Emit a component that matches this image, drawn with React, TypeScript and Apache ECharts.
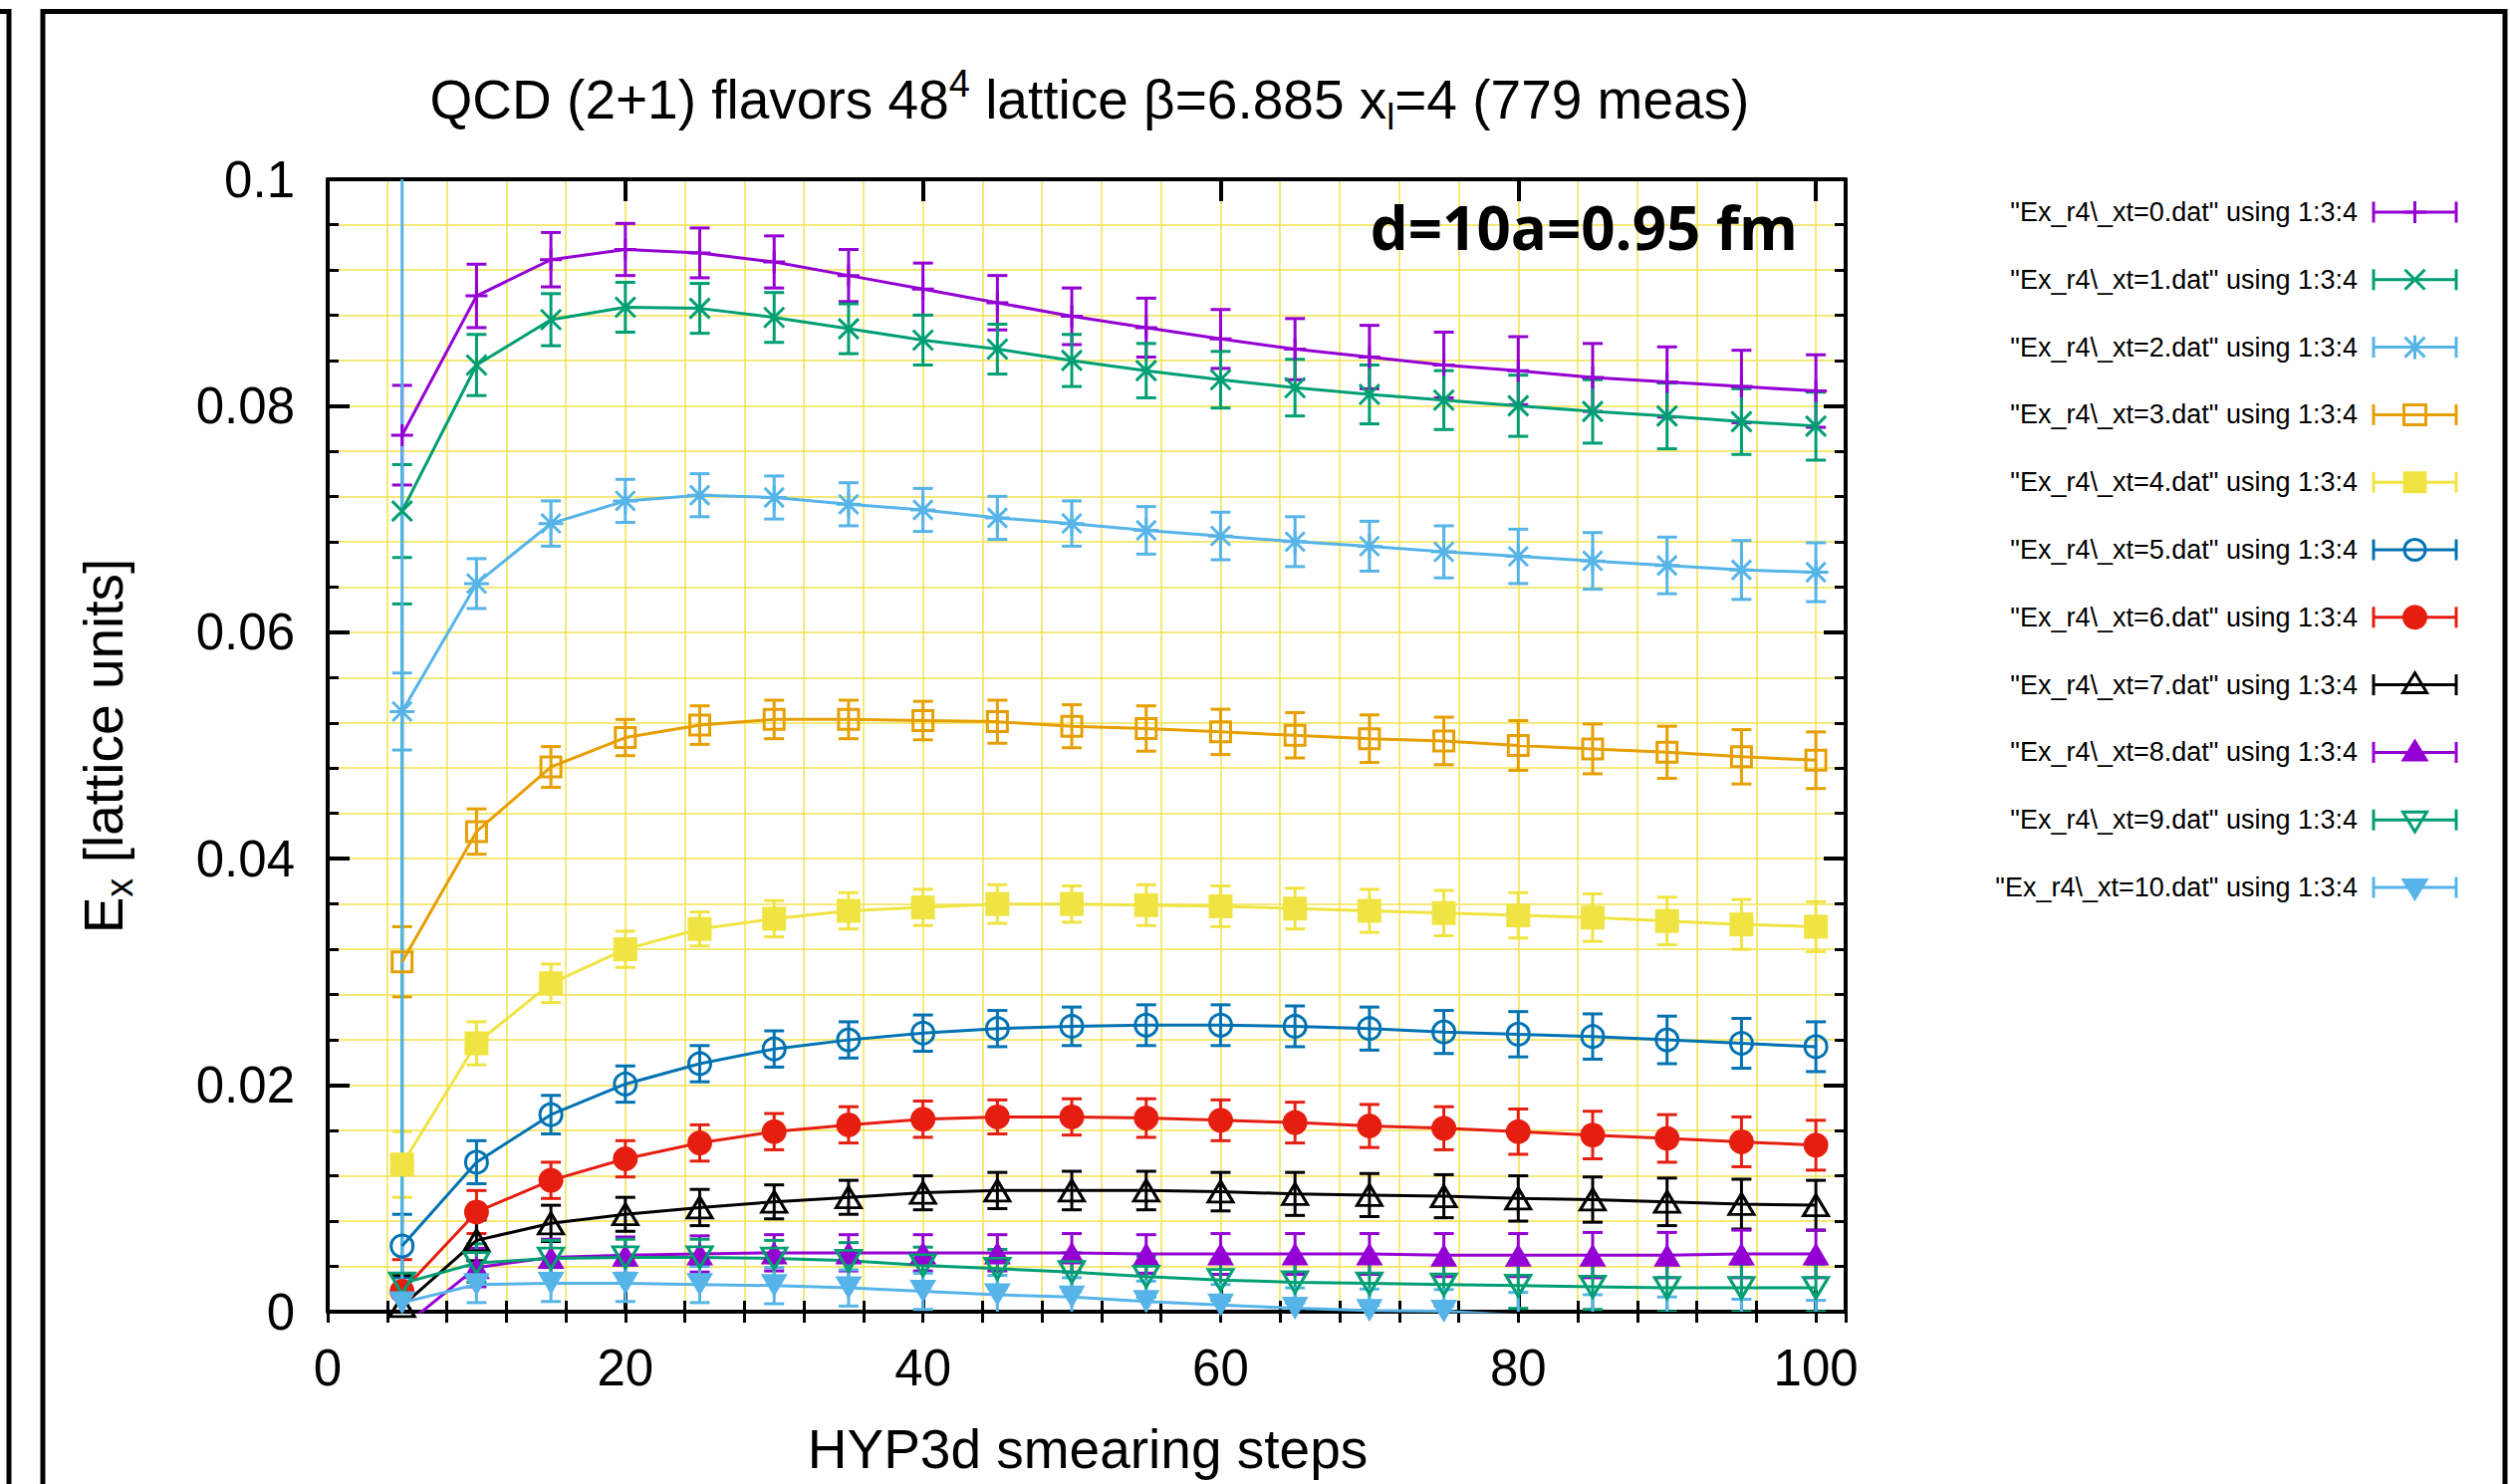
import React, { useEffect, useRef } from "react";
import * as echarts from "echarts";

// smearing steps (x values shared by every data file)
const steps = [5, 10, 15, 20, 25, 30, 35, 40, 45, 50, 55, 60, 65, 70, 75, 80, 85, 90, 95, 100];

// E_x values and their errors, one pair of arrays per xt file
const xt0 = [0.0774, 0.0897, 0.0929, 0.0938, 0.0935, 0.0927, 0.0915, 0.0903, 0.0891, 0.0879, 0.0869, 0.0859, 0.0850, 0.0843, 0.0836, 0.0831, 0.0825, 0.0821, 0.0817, 0.0813];
const xt0Err = [0.0044, 0.0028, 0.0024, 0.0023, 0.0022, 0.0023, 0.0023, 0.0023, 0.0024, 0.0025, 0.0026, 0.0026, 0.0027, 0.0028, 0.0029, 0.0030, 0.0030, 0.0031, 0.0032, 0.0032];

const xt1 = [0.0707, 0.0836, 0.0876, 0.0887, 0.0886, 0.0878, 0.0868, 0.0858, 0.0850, 0.0840, 0.0831, 0.0823, 0.0816, 0.0810, 0.0805, 0.0800, 0.0795, 0.0791, 0.0786, 0.0782];
const xt1Err = [0.0041, 0.0027, 0.0023, 0.0022, 0.0022, 0.0022, 0.0022, 0.0022, 0.0022, 0.0023, 0.0024, 0.0025, 0.0025, 0.0026, 0.0026, 0.0027, 0.0028, 0.0029, 0.0029, 0.0030];

const xt2 = [0.0530, 0.0643, 0.0696, 0.0716, 0.0721, 0.0719, 0.0713, 0.0708, 0.0701, 0.0696, 0.0690, 0.0685, 0.0680, 0.0676, 0.0671, 0.0667, 0.0663, 0.0659, 0.0655, 0.0653];
const xt2Err = [0.0034, 0.0022, 0.0020, 0.0019, 0.0019, 0.0019, 0.0019, 0.0019, 0.0019, 0.0020, 0.0021, 0.0021, 0.0022, 0.0022, 0.0023, 0.0024, 0.0025, 0.0025, 0.0026, 0.0026];

const xt3 = [0.0309, 0.0424, 0.0481, 0.0507, 0.0518, 0.0523, 0.0523, 0.0522, 0.0521, 0.0517, 0.0515, 0.0512, 0.0509, 0.0506, 0.0504, 0.0500, 0.0497, 0.0494, 0.0490, 0.0487];
const xt3Err = [0.0031, 0.0020, 0.0018, 0.0016, 0.0017, 0.0017, 0.0017, 0.0017, 0.0019, 0.0019, 0.0020, 0.0020, 0.0020, 0.0021, 0.0021, 0.0022, 0.0022, 0.0023, 0.0024, 0.0025];

const xt4 = [0.0130, 0.0237, 0.0290, 0.0320, 0.0338, 0.0347, 0.0354, 0.0357, 0.0360, 0.0360, 0.0359, 0.0358, 0.0356, 0.0354, 0.0352, 0.0350, 0.0348, 0.0345, 0.0342, 0.0340];
const xt4Err = [0.0029, 0.0019, 0.0017, 0.0016, 0.0015, 0.0016, 0.0016, 0.0016, 0.0017, 0.0016, 0.0018, 0.0018, 0.0018, 0.0019, 0.0020, 0.0020, 0.0021, 0.0021, 0.0022, 0.0022];

const xt5 = [0.0058, 0.0132, 0.0174, 0.0201, 0.0219, 0.0232, 0.0240, 0.0246, 0.0250, 0.0252, 0.0253, 0.0253, 0.0252, 0.0250, 0.0247, 0.0245, 0.0243, 0.0240, 0.0237, 0.0234];
const xt5Err = [0.0028, 0.0019, 0.0017, 0.0016, 0.0016, 0.0016, 0.0016, 0.0016, 0.0016, 0.0017, 0.0018, 0.0018, 0.0018, 0.0019, 0.0019, 0.0020, 0.0020, 0.0021, 0.0022, 0.0022];

const xt6 = [0.0018, 0.0088, 0.0116, 0.0135, 0.0149, 0.0159, 0.0165, 0.0170, 0.0172, 0.0172, 0.0171, 0.0169, 0.0167, 0.0164, 0.0162, 0.0159, 0.0156, 0.0153, 0.0150, 0.0147];
const xt6Err = [0.0028, 0.0019, 0.0016, 0.0016, 0.0016, 0.0016, 0.0016, 0.0016, 0.0015, 0.0016, 0.0017, 0.0018, 0.0018, 0.0019, 0.0019, 0.0020, 0.0021, 0.0021, 0.0022, 0.0022];

const xt7 = [0.0005, 0.0063, 0.0078, 0.0086, 0.0092, 0.0097, 0.0101, 0.0105, 0.0107, 0.0107, 0.0107, 0.0106, 0.0104, 0.0103, 0.0102, 0.0100, 0.0099, 0.0097, 0.0095, 0.0094];
const xt7Err = [0.0027, 0.0018, 0.0016, 0.0015, 0.0016, 0.0015, 0.0015, 0.0015, 0.0016, 0.0017, 0.0017, 0.0017, 0.0019, 0.0019, 0.0019, 0.0020, 0.0020, 0.0021, 0.0022, 0.0022];

const xt8 = [-0.0014, 0.0039, 0.0048, 0.0050, 0.0051, 0.0052, 0.0052, 0.0052, 0.0052, 0.0052, 0.0051, 0.0051, 0.0051, 0.0051, 0.0050, 0.0050, 0.0050, 0.0050, 0.0051, 0.0051];
const xt8Err = [0.0027, 0.0017, 0.0016, 0.0016, 0.0016, 0.0016, 0.0016, 0.0016, 0.0016, 0.0017, 0.0017, 0.0018, 0.0018, 0.0018, 0.0019, 0.0019, 0.0020, 0.0020, 0.0021, 0.0021];

const xt9 = [0.0025, 0.0043, 0.0047, 0.0048, 0.0048, 0.0047, 0.0045, 0.0041, 0.0038, 0.0035, 0.0031, 0.0028, 0.0026, 0.0025, 0.0024, 0.0023, 0.0022, 0.0021, 0.0021, 0.0021];
const xt9Err = [0.0600, 0.0017, 0.0016, 0.0016, 0.0016, 0.0016, 0.0016, 0.0016, 0.0017, 0.0017, 0.0018, 0.0018, 0.0018, 0.0019, 0.0019, 0.0020, 0.0020, 0.0021, 0.0021, 0.0021];

const xt10 = [0.0008, 0.0024, 0.0025, 0.0025, 0.0024, 0.0023, 0.0021, 0.0018, 0.0015, 0.0013, 0.0009, 0.0006, 0.0003, 0.0001, 0.00005, -0.0003, -0.0005, -0.0008, -0.0010, -0.0012];
const xt10Err = [0.1500, 0.0016, 0.0016, 0.0016, 0.0016, 0.0016, 0.0016, 0.0016, 0.0017, 0.0017, 0.0018, 0.0018, 0.0018, 0.0019, 0.0019, 0.0020, 0.0020, 0.0021, 0.0021, 0.0022];

const values = [xt0, xt1, xt2, xt3, xt4, xt5, xt6, xt7, xt8, xt9, xt10];
const errors = [xt0Err, xt1Err, xt2Err, xt3Err, xt4Err, xt5Err, xt6Err, xt7Err, xt8Err, xt9Err, xt10Err];

// legend entries
const fileLabels = [0, 1, 2, 3, 4, 5, 6, 7, 8, 9, 10].map(
  (i) => `"Ex_r4\\_xt=${i}.dat" using 1:3:4`
);

// axis ticks
const xTickLabels = [0, 20, 40, 60, 80, 100];
const yTickLabels = [0, 0.02, 0.04, 0.06, 0.08, 0.1];

// gnuplot-like line colours and point types
const COLORS = ["#9400d3", "#009e73", "#56b4e9", "#e69f00", "#f0e442", "#0072b2", "#e51e10", "#000000", "#9400d3", "#009e73", "#56b4e9"];
const MARKS = ["plus", "cross", "star", "sqOpen", "sqFill", "circOpen", "circFill", "triOpen", "triFill", "dtriOpen", "dtriFill"];

const FONT = '"Liberation Sans", Arial, Helvetica, sans-serif';
const GRID_COLOR = "#f0e24e";
const LW = 3;

// plot area in pixels
const PLOT = { left: 329, top: 180, width: 1524, height: 1137 };

function symbolFor(kind: string, color: string) {
  const open = { color: "rgba(0,0,0,0)", borderColor: color, borderWidth: LW };
  const filled = { color, borderWidth: 0 };
  switch (kind) {
    case "plus":
      return { symbol: "path://M0,-1L0,1M-1,0L1,0", symbolSize: 22, itemStyle: open, symbolRotate: 0 };
    case "cross":
      return { symbol: "path://M-1,-1L1,1M-1,1L1,-1", symbolSize: 20, itemStyle: open, symbolRotate: 0 };
    case "star":
      return { symbol: "path://M-1,-1L1,1M-1,1L1,-1M0,-1.3L0,1.3M-1.3,0L1.3,0", symbolSize: 25, itemStyle: open, symbolRotate: 0 };
    case "sqOpen":
      return { symbol: "rect", symbolSize: 20, itemStyle: open, symbolRotate: 0 };
    case "sqFill":
      return { symbol: "rect", symbolSize: 24, itemStyle: filled, symbolRotate: 0 };
    case "circOpen":
      return { symbol: "circle", symbolSize: 22, itemStyle: open, symbolRotate: 0 };
    case "circFill":
      return { symbol: "circle", symbolSize: 25, itemStyle: filled, symbolRotate: 0 };
    case "triOpen":
      return { symbol: "triangle", symbolSize: [25, 21], itemStyle: open, symbolRotate: 0 };
    case "triFill":
      return { symbol: "triangle", symbolSize: [27, 23], itemStyle: filled, symbolRotate: 0 };
    case "dtriOpen":
      return { symbol: "triangle", symbolSize: [25, 21], itemStyle: open, symbolRotate: 180 };
    default:
      return { symbol: "triangle", symbolSize: [27, 23], itemStyle: filled, symbolRotate: 180 };
  }
}

// marker shapes for the hand-drawn key
function keyMarker(kind: string, color: string, cx: number, cy: number): any[] {
  const st = { stroke: color, lineWidth: LW, fill: "none" };
  const fl = { fill: color };
  const ln = (x1: number, y1: number, x2: number, y2: number) => ({
    type: "line",
    shape: { x1, y1, x2, y2 },
    style: st,
  });
  switch (kind) {
    case "plus":
      return [ln(cx, cy - 11, cx, cy + 11), ln(cx - 11, cy, cx + 11, cy)];
    case "cross":
      return [ln(cx - 10, cy - 10, cx + 10, cy + 10), ln(cx - 10, cy + 10, cx + 10, cy - 10)];
    case "star":
      return [
        ln(cx - 10, cy - 10, cx + 10, cy + 10),
        ln(cx - 10, cy + 10, cx + 10, cy - 10),
        ln(cx, cy - 12, cx, cy + 12),
      ];
    case "sqOpen":
      return [{ type: "rect", shape: { x: cx - 11, y: cy - 10, width: 22, height: 20 }, style: st }];
    case "sqFill":
      return [{ type: "rect", shape: { x: cx - 12, y: cy - 11, width: 24, height: 22 }, style: fl }];
    case "circOpen":
      return [{ type: "circle", shape: { cx, cy, r: 10.5 }, style: st }];
    case "circFill":
      return [{ type: "circle", shape: { cx, cy, r: 12.5 }, style: fl }];
    case "triOpen":
      return [{ type: "polygon", shape: { points: [[cx, cy - 12], [cx + 12, cy + 8], [cx - 12, cy + 8]] }, style: st }];
    case "triFill":
      return [{ type: "polygon", shape: { points: [[cx, cy - 14], [cx + 14, cy + 9], [cx - 14, cy + 9]] }, style: fl }];
    case "dtriOpen":
      return [{ type: "polygon", shape: { points: [[cx, cy + 12], [cx + 12, cy - 8], [cx - 12, cy - 8]] }, style: st }];
    default:
      return [{ type: "polygon", shape: { points: [[cx, cy + 14], [cx + 14, cy - 9], [cx - 14, cy - 9]] }, style: fl }];
  }
}

function buildOption() {
  const series: any[] = [];
  values.forEach((vals, k) => {
    const color = COLORS[k];
    const errs = errors[k];
    series.push({
      type: "custom",
      name: fileLabels[k] + " errors",
      xAxisIndex: 0,
      yAxisIndex: 0,
      clip: true,
      silent: true,
      data: steps.map((s, i) => [s, vals[i] - errs[i], vals[i] + errs[i]]),
      encode: { x: 0, y: [1, 2] },
      renderItem: (_params: any, api: any) => {
        const x = api.value(0);
        const lo = api.coord([x, api.value(1)]);
        const hi = api.coord([x, api.value(2)]);
        const hw = 10;
        const style = { stroke: color, lineWidth: LW };
        return {
          type: "group",
          children: [
            { type: "line", shape: { x1: lo[0], y1: lo[1], x2: hi[0], y2: hi[1] }, style },
            { type: "line", shape: { x1: lo[0] - hw, y1: lo[1], x2: lo[0] + hw, y2: lo[1] }, style },
            { type: "line", shape: { x1: hi[0] - hw, y1: hi[1], x2: hi[0] + hw, y2: hi[1] }, style },
          ],
        };
      },
    });
    const sym = symbolFor(MARKS[k], color);
    series.push({
      type: "line",
      name: fileLabels[k],
      xAxisIndex: 0,
      yAxisIndex: 0,
      clip: true,
      silent: true,
      data: steps.map((s, i) => [s, vals[i]]),
      symbol: sym.symbol,
      symbolSize: sym.symbolSize,
      symbolRotate: sym.symbolRotate,
      showSymbol: true,
      showAllSymbol: true,
      itemStyle: sym.itemStyle,
      lineStyle: { color, width: LW },
      emphasis: { disabled: true },
    });
  });

  const majorTick = { show: true, inside: true, length: 22, lineStyle: { color: "#000", width: 4 } };
  const minorTickX = { show: true, inside: true, length: 11, lineStyle: { color: "#000", width: 3 } };
  const axisLine = { show: true, onZero: false, lineStyle: { color: "#000", width: 4 } };
  const gridLine = { show: true, lineStyle: { color: GRID_COLOR, width: 1.5 } };
  const labelStyle = { color: "#000", fontSize: 51, fontFamily: FONT };

  const xBase = { type: "value", min: 0, max: 102 };
  const xAxis = [
    {
      ...xBase,
      position: "bottom",
      interval: 20,
      axisLine,
      axisTick: majorTick,
      splitLine: { show: false },
      axisLabel: {
        ...labelStyle,
        margin: 31,
        formatter: (v: number) => (xTickLabels.indexOf(v) >= 0 ? String(v) : ""),
      },
    },
    {
      ...xBase,
      position: "bottom",
      interval: 4,
      axisLine: { show: false },
      axisTick: minorTickX,
      splitLine: gridLine,
      axisLabel: { show: false },
    },
    {
      ...xBase,
      position: "top",
      interval: 20,
      axisLine,
      axisTick: majorTick,
      splitLine: { show: false },
      axisLabel: { show: false },
    },
    {
      ...xBase,
      position: "top",
      interval: 4,
      axisLine: { show: false },
      axisTick: minorTickX,
      splitLine: { show: false },
      axisLabel: { show: false },
    },
  ];

  const yBase = {
    type: "value",
    min: 0,
    max: 0.1,
    interval: 0.02,
    axisLine,
    axisTick: majorTick,
    minorTick: { show: true, splitNumber: 5, length: 11, lineStyle: { color: "#000", width: 3 } },
  };
  const yAxis = [
    {
      ...yBase,
      position: "left",
      splitLine: gridLine,
      minorSplitLine: gridLine,
      axisLabel: {
        ...labelStyle,
        margin: 33,
        formatter: (v: number) => {
          const hit = yTickLabels.find((t) => Math.abs(t - v) < 1e-9);
          return hit === undefined ? "" : String(hit);
        },
      },
    },
    {
      ...yBase,
      position: "right",
      splitLine: { show: false },
      minorSplitLine: { show: false },
      axisLabel: { show: false },
    },
  ];

  // key on the right: text, error-bar sample, point symbol
  const keyElems: any[] = [];
  fileLabels.forEach((label, k) => {
    const cy = 213 + k * 67.8;
    const color = COLORS[k];
    const x1 = 2383;
    const x2 = 2466;
    const cx = (x1 + x2) / 2;
    keyElems.push({
      type: "text",
      x: 2367,
      y: cy,
      style: { text: label, fontSize: 27, fontFamily: FONT, fill: "#000", align: "right", verticalAlign: "middle" },
    });
    const st = { stroke: color, lineWidth: LW };
    keyElems.push({ type: "line", shape: { x1, y1: cy, x2, y2: cy }, style: st });
    keyElems.push({ type: "line", shape: { x1, y1: cy - 10.5, x2: x1, y2: cy + 10.5 }, style: st });
    keyElems.push({ type: "line", shape: { x1: x2, y1: cy - 10.5, x2, y2: cy + 10.5 }, style: st });
    keyMarker(MARKS[k], color, cx, cy).forEach((m) => keyElems.push(m));
  });

  const graphic: any[] = [
    // page frames
    {
      type: "polyline",
      shape: { points: [[43, 1500], [43, 11.5], [2515, 11.5], [2515, 1500]] },
      style: { stroke: "#000", lineWidth: 5, fill: "none" },
    },
    {
      type: "polyline",
      shape: { points: [[-5, 11.5], [9, 11.5], [9, 1500]] },
      style: { stroke: "#000", lineWidth: 5, fill: "none" },
    },
    // title
    {
      type: "text",
      x: 1094,
      y: 100,
      style: {
        text: "{m|QCD (2+1) flavors 48}{sup|4}{m| lattice β=6.885 x}{sub|l}{m|=4 (779 meas)}",
        align: "center",
        verticalAlign: "middle",
        rich: {
          m: { fontSize: 55, fontFamily: FONT, fill: "#000", lineHeight: 70 },
          sup: { fontSize: 38, fontFamily: FONT, fill: "#000", lineHeight: 40, verticalAlign: "top" },
          sub: { fontSize: 36, fontFamily: FONT, fill: "#000", lineHeight: 40, verticalAlign: "bottom" },
        },
      },
    },
    // y axis title
    {
      type: "text",
      x: 104,
      y: 749,
      rotation: Math.PI / 2,
      style: {
        text: "{m|E}{sub|x}{m| [lattice units]}",
        align: "center",
        verticalAlign: "middle",
        rich: {
          m: { fontSize: 55, fontFamily: FONT, fill: "#000", lineHeight: 70 },
          sub: { fontSize: 38, fontFamily: FONT, fill: "#000", lineHeight: 40, verticalAlign: "bottom" },
        },
      },
    },
    // x axis title
    {
      type: "text",
      x: 1092,
      y: 1455,
      style: {
        text: "HYP3d smearing steps",
        fontSize: 55,
        fontFamily: FONT,
        fill: "#000",
        align: "center",
        verticalAlign: "middle",
      },
    },
    // separation annotation
    {
      type: "text",
      x: 1805,
      y: 228,
      z: 100,
      style: {
        text: "d=10a=0.95 fm",
        fontSize: 60,
        fontWeight: "bold",
        fontFamily: '"Open Sans", "Liberation Sans", sans-serif',
        fill: "#000",
        align: "right",
        verticalAlign: "middle",
      },
    },
    ...keyElems,
  ];

  return {
    animation: false,
    backgroundColor: "#ffffff",
    grid: { ...PLOT, containLabel: false },
    xAxis,
    yAxis,
    series,
    graphic,
  };
}

export default function App() {
  const ref = useRef<HTMLDivElement>(null);
  useEffect(() => {
    if (!ref.current) return;
    const chart = echarts.init(ref.current, undefined, { renderer: "svg" });
    chart.setOption(buildOption() as any);
    return () => chart.dispose();
  }, []);
  return (
    <div
      ref={ref}
      style={{ position: "absolute", left: 0, top: 0, width: 2520, height: 1490, background: "#fff" }}
    />
  );
}
